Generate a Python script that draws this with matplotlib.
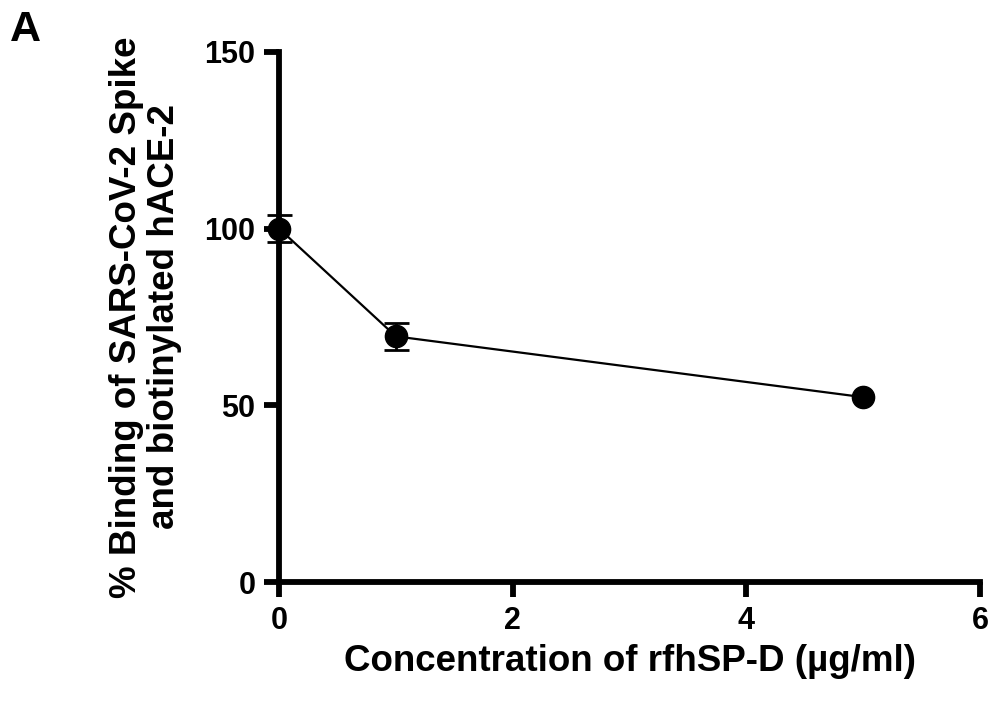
import matplotlib
matplotlib.use("Agg")
import matplotlib.pyplot as plt

# rfhSP-D concentration (ug/ml) vs % binding
conc = [0, 1, 5]
binding = [100, 69.5, 52.3]
binding_err = [3.9, 3.8, 0]

plt.rcParams['font.family'] = ['Liberation Sans', 'DejaVu Sans']
plt.rcParams['font.weight'] = 'bold'

fig = plt.figure(figsize=(9.93, 7.09), dpi=100)
ax = fig.add_axes([0.281, 0.179, 0.706, 0.748])

ax.plot(conc, binding, 'o-', color='black', markersize=16, linewidth=1.6,
        clip_on=False, zorder=5)
# the last point has no visible error bar
has_err = [i for i, e in enumerate(binding_err) if e > 0]
ax.errorbar([conc[i] for i in has_err], [binding[i] for i in has_err],
            yerr=[binding_err[i] for i in has_err], fmt='none', ecolor='black',
            elinewidth=2, capsize=9, capthick=2, clip_on=False, zorder=4)

ax.set_xlim(0, 6)
ax.set_ylim(0, 150)
ax.set_xticks([0, 2, 4, 6])
ax.set_yticks([0, 50, 100, 150])

for side in ['top', 'right']:
    ax.spines[side].set_visible(False)
for side in ['left', 'bottom']:
    ax.spines[side].set_linewidth(4.2)
ax.tick_params(width=4.2, length=11, labelsize=22, pad=6)
for lab in ax.get_xticklabels() + ax.get_yticklabels():
    lab.set_fontweight('bold')

ax.set_xlabel("Concentration of rfhSP-D (µg/ml)", fontsize=26.5, fontweight='bold', labelpad=6)
ax.set_ylabel("% Binding of SARS-CoV-2 Spike\nand biotinylated hACE-2", fontsize=26.5,
              fontweight='bold', labelpad=16, linespacing=1.1)

fig.text(0.010, 0.942, "A", fontsize=31, fontweight='bold')

fig.savefig("out.png", dpi=100)
